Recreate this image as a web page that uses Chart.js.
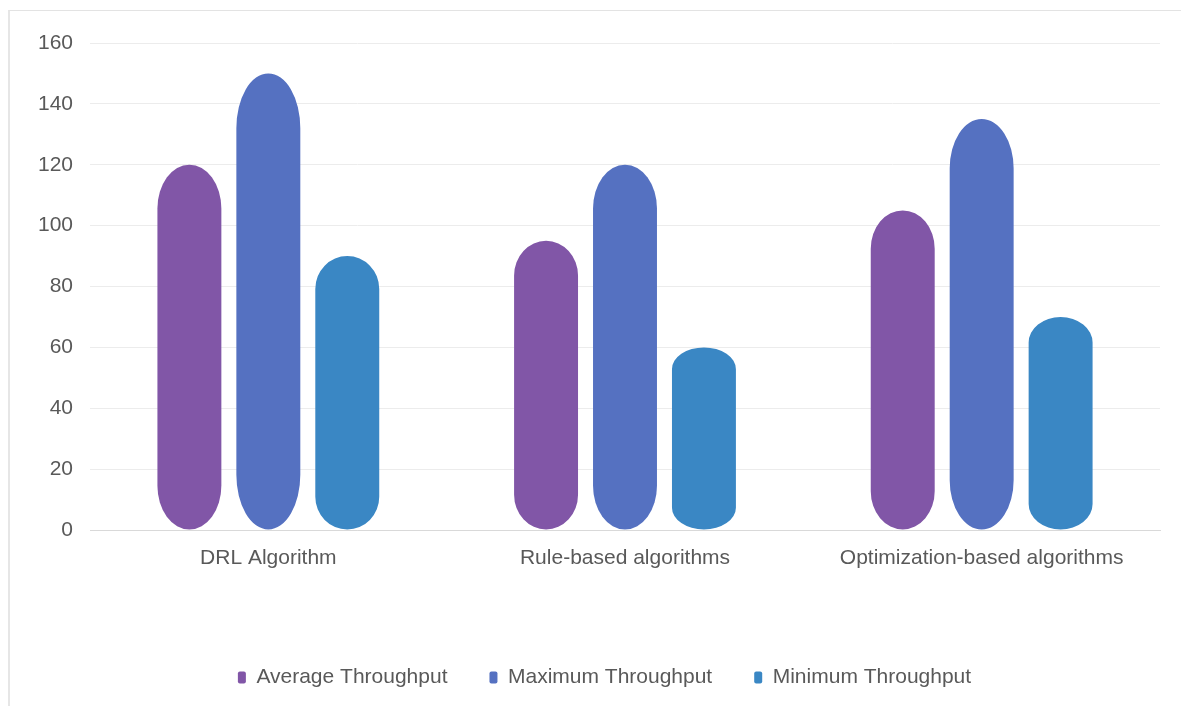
<!DOCTYPE html>
<html><head><meta charset="utf-8">
<script src="https://cdn.jsdelivr.net/npm/chart.js@4/dist/chart.umd.min.js"></script>
<style>
html,body{margin:0;padding:0;background:#fff;overflow:hidden;}
#wrap{position:absolute;left:8px;top:10px;width:1173px;height:696px;border-top:1px solid #e3e3e3;border-left:2px solid #e6e6e6;box-sizing:border-box;}
#c{position:absolute;left:-1px;top:0;display:block;}
</style></head>
<body>
<div id="wrap"><canvas id="c" width="1162" height="691"></canvas></div>
<script>
const categories = ["DRL Algorithm", "Rule-based algorithms", "Optimization-based algorithms"];
const averageThroughput = [120, 95, 105];
const maximumThroughput = [150, 120, 135];
const minimumThroughput = [90, 60, 70];
const seriesNames = ["Average Throughput", "Maximum Throughput", "Minimum Throughput"];
const seriesColors = ["#8156A7", "#5571C1", "#3A87C4"];

// capsule-shaped bars with elliptical ends, drawn from the element's own geometry
Chart.BarElement.prototype.draw = function(ctx){
  const {x, y, base, width} = this.getProps(['x','y','base','width']);
  const h = Math.abs(base - y);
  const top = Math.min(y, base), bot = Math.max(y, base);
  const rx = width/2;
  const ry = Math.min(h/2, h*0.12);
  ctx.save();
  ctx.fillStyle = this.options.backgroundColor;
  ctx.beginPath();
  ctx.moveTo(x - rx, top + ry);
  ctx.ellipse(x, top + ry, rx, ry, 0, Math.PI, 2*Math.PI);
  ctx.lineTo(x + rx, bot - ry);
  ctx.ellipse(x, bot - ry, rx, ry, 0, 0, Math.PI);
  ctx.closePath();
  ctx.fill();
  ctx.restore();
};

const legendShift = {
  id: 'legendShift',
  afterLayout(chart){
    const lg = chart.legend;
    if (lg) { lg.left += 20; lg.right += 20; }
  }
};

const FONT = 'Liberation Sans, Arial, sans-serif';
const data = {
  labels: categories,
  datasets: [
    {label: seriesNames[0], data: averageThroughput, backgroundColor: seriesColors[0]},
    {label: seriesNames[1], data: maximumThroughput, backgroundColor: seriesColors[1]},
    {label: seriesNames[2], data: minimumThroughput, backgroundColor: seriesColors[2]}
  ]
};

new Chart(document.getElementById('c'), {
  type: 'bar',
  data,
  plugins: [legendShift],
  options: {
    responsive: false,
    animation: false,
    layout: {padding: {left: 0, right: 11, top: 32, bottom: 4}},
    datasets: {bar: {categoryPercentage: 0.664, barPercentage: 0.81}},
    plugins: {
      tooltip: {enabled: false},
      legend: {
        position: 'bottom',
        labels: {
          color: '#595959',
          font: {family: FONT, size: 21},
          boxWidth: 8, boxHeight: 12,
          useBorderRadius: true, borderRadius: 2,
          padding: 42
        }
      }
    },
    scales: {
      x: {
        afterFit: s => { s.height = 95; },
        grid: {display: false},
        border: {color: '#d9d9d9', width: 1},
        ticks: {color: '#595959', font: {family: FONT, size: 21}, padding: 8}
      },
      y: {
        min: 0, max: 160,
        afterFit: s => { s.width = 81; },
        ticks: {stepSize: 20, color: '#595959', font: {family: FONT, size: 21}, padding: 17},
        grid: {color: '#ececec', lineWidth: 1, drawTicks: false},
        border: {display: false}
      }
    }
  }
});
</script>
</body></html>
